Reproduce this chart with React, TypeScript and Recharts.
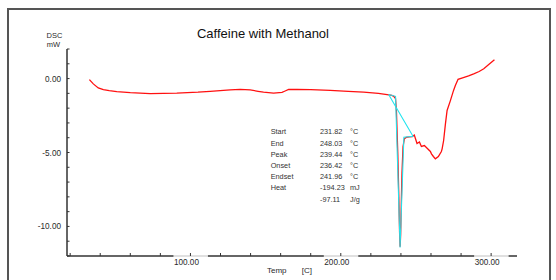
import { LineChart, Line, XAxis, YAxis } from "recharts";

const TITLE = "Caffeine with Methanol";

// DSC curve: temperature [C] and heat flow [mW]
const TEMP = [
  32.8, 35.4, 38.7, 42.1, 46, 51, 60, 73.2, 90.9, 105, 113.1, 126.4, 133.1, 139.7, 145, 148.6,
  155.3, 160.9, 163, 165.3, 170.8, 180, 193, 205, 215.2, 225, 230.8, 234, 235.2, 236.4, 237.0,
  237.9, 238.6, 239.1, 239.45, 239.8, 240.2, 240.7, 241.4, 242.3, 243.5, 245.5, 247.6, 248.9,
  249.8, 250.7, 252.3, 253.6, 255.6, 257.6, 259.6, 260.3, 261.6, 262.9, 264.9, 266.9, 267.4,
  268.4, 269.6, 270.7, 272.9, 275, 276.2, 278, 281, 285, 288.4, 292, 295.1, 299, 302.2,
];
const DSC = [
  -0.07, -0.36, -0.63, -0.74, -0.82, -0.88, -0.95, -1.02, -0.99, -0.92, -0.86, -0.76, -0.73, -0.77, -0.86, -0.92,
  -0.98, -0.93, -0.84, -0.74, -0.73, -0.75, -0.8, -0.86, -0.92, -1.0, -1.08, -1.14, -1.2, -1.35, -2.2,
  -5.0, -8.0, -10.4, -11.38, -10.6, -8.6, -6.4, -4.6, -4.07, -3.98, -3.95, -3.92, -3.82,
  -4.1, -4.39, -4.29, -4.59, -4.53, -4.73, -4.93, -5.09, -5.27, -5.43, -5.27, -4.93, -4.75,
  -4.19, -3.06, -2.16, -1.49, -0.8, -0.47, -0.05, 0.05, 0.18, 0.32, 0.48, 0.66, 1.0, 1.28,
];

// analysis construction (start -> onset -> peak -> endset -> end -> start)
const BASE_T = [231.82, 236.42, 239.44, 241.96, 248.03, 231.82];
const BASE_V = [-1.08, -1.2, -11.42, -3.97, -3.9, -1.08];

const X_DOMAIN = [17.9, 317.2];
const X_TICKS = [20, 40, 60, 80, 100, 120, 140, 160, 180, 200, 220, 240, 260, 280, 300];
const X_LABELS = [100, 200, 300];
const Y_DOMAIN = [-12, 2];
const Y_TICKS = [-12, -11, -10, -9, -8, -7, -6, -5, -4, -3, -2, -1, 0, 1, 2];
const Y_LABELS = [0, -5, -10];

const RESULT_NAMES = ["Start", "End", "Peak", "Onset", "Endset", "Heat", ""];
const RESULT_VALUES = ["231.82", "248.03", "239.44", "236.42", "241.96", "-194.23", "-97.11"];
const RESULT_UNITS = ["°C", "°C", "°C", "°C", "°C", "mJ", "J/g"];

const FONT = "'Liberation Sans', Arial, sans-serif";
const INK = "#2a2a2a";

function XTick(props: any) {
  const { x, y, payload } = props;
  const major = X_LABELS.includes(payload.value);
  return (
    <g>
      {major && <rect x={x - 17} y={y - 1} width={34.5} height={11} fill="#fff" fillOpacity={0.8} />}
      <line x1={x} x2={x} y1={y} y2={y - 3} stroke="#333" strokeWidth={1} />
      {major && (
        <text x={x - 16.5} y={y + 8.5} fontSize={8.2} fill={INK} fontFamily={FONT}>
          {payload.value.toFixed(2)}
        </text>
      )}
    </g>
  );
}

function YTick(props: any) {
  const { x, y, payload } = props;
  const major = Y_LABELS.includes(payload.value);
  return (
    <g>
      <line x1={x} x2={x + 2.5} y1={y} y2={y} stroke="#333" strokeWidth={1} />
      {major && (
        <text x={x - 6} y={y + 3} fontSize={8.2} fill={INK} textAnchor="end" fontFamily={FONT}>
          {payload.value.toFixed(2)}
        </text>
      )}
    </g>
  );
}

export default function App() {
  const curve = TEMP.map((t, i) => ({ t, v: DSC[i] }));
  const construction = BASE_T.map((t, i) => ({ t, v: BASE_V[i] }));

  return (
    <div style={{ position: "relative", width: 556, height: 280, overflow: "hidden", background: "#fff", fontFamily: FONT }}>
      <style>{"body{margin:0}"}</style>
      <LineChart width={556} height={280} margin={{ top: 49, right: 39, bottom: 0, left: 7 }}>
        <XAxis
          type="number"
          dataKey="t"
          domain={X_DOMAIN}
          ticks={X_TICKS}
          interval={0}
          allowDataOverflow
          height={24}
          tickSize={0}
          tickMargin={0}
          tickLine={false}
          tick={<XTick />}
          axisLine={{ stroke: "#333", strokeWidth: 1.5 }}
        />
        <XAxis
          xAxisId="top"
          orientation="top"
          type="number"
          dataKey="t"
          domain={X_DOMAIN}
          allowDataOverflow
          height={0}
          tick={false}
          tickLine={false}
          axisLine={{ stroke: "#333", strokeWidth: 1.5 }}
        />
        <YAxis
          type="number"
          domain={Y_DOMAIN}
          ticks={Y_TICKS}
          interval={0}
          allowDataOverflow
          width={60}
          tickSize={0}
          tickMargin={0}
          tickLine={false}
          tick={<YTick />}
          axisLine={{ stroke: "#333", strokeWidth: 1.5 }}
        />
        <YAxis
          yAxisId="right"
          orientation="right"
          type="number"
          domain={Y_DOMAIN}
          allowDataOverflow
          width={0}
          tick={false}
          tickLine={false}
          axisLine={{ stroke: "#333", strokeWidth: 1.5 }}
        />
        <Line data={curve} dataKey="v" type="linear" stroke="#ff1010" strokeWidth={1.3} dot={false} isAnimationActive={false} />
        <Line data={construction} dataKey="v" type="linear" stroke="#22e4ee" strokeWidth={1.1} dot={false} isAnimationActive={false} />

        <text x={263} y={38.3} fontSize={13} textAnchor="middle" fill="#111" fontFamily={FONT}>{TITLE}</text>
        <text x={54.5} y={37.7} fontSize={7.5} textAnchor="middle" fill={INK} fontFamily={FONT}>DSC</text>
        <text x={53.5} y={46.7} fontSize={7.5} textAnchor="middle" fill={INK} fontFamily={FONT}>mW</text>
        <text x={267} y={273} fontSize={8} fill={INK} fontFamily={FONT}>Temp</text>
        <text x={301.7} y={273} fontSize={8} fill={INK} fontFamily={FONT}>[C]</text>

        {RESULT_VALUES.map((val, i) => (
          <g key={i} fontSize={7.3} fill="#333" fontFamily={FONT}>
            <text x={270.7} y={134.3 + i * 11.2}>{RESULT_NAMES[i]}</text>
            <text x={320} y={134.3 + i * 11.2}>{val}</text>
            <text x={350} y={134.3 + i * 11.2}>{RESULT_UNITS[i]}</text>
          </g>
        ))}
      </LineChart>
      <div
        style={{
          position: "absolute",
          left: 7,
          top: 8,
          width: 540,
          height: 300,
          border: "2px solid #555",
          pointerEvents: "none",
        }}
      />
    </div>
  );
}
